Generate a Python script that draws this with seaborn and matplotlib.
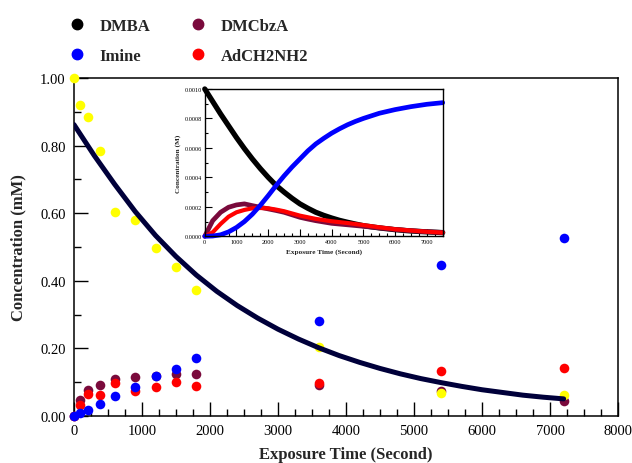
import numpy as np
import pandas as pd
import seaborn as sns
import matplotlib.pyplot as plt
from matplotlib.lines import Line2D
from matplotlib.ticker import MultipleLocator, FormatStrFormatter

# pontos medidos (mM)
tempo = [0, 90, 200, 380, 600, 900, 1200, 1500, 1800, 3600, 5400, 7200]
dmba = [1.00, 0.92, 0.885, 0.785, 0.604, 0.58, 0.497, 0.44, 0.372, 0.204, 0.068, 0.063]
imina = [0.0, 0.008, 0.018, 0.037, 0.059, 0.087, 0.12, 0.14, 0.171, 0.282, 0.447, 0.528]
dmcbza = [0.0, 0.047, 0.076, 0.092, 0.111, 0.117, 0.12, 0.124, 0.124, 0.091, 0.075, 0.046]
adch2nh2 = [0.0, 0.032, 0.064, 0.063, 0.097, 0.074, 0.087, 0.102, 0.089, 0.099, 0.132, 0.143]

# curva ajustada do DMBA
tempo_fit = [0, 300, 600, 900, 1200, 1500, 1800, 2100, 2400, 2700, 3000, 3300,
             3600, 3900, 4200, 4500, 4800, 5100, 5400, 5700, 6000, 6300, 6600,
             6900, 7200]
dmba_fit = [0.862, 0.77, 0.685, 0.605, 0.534, 0.472, 0.417, 0.369, 0.327, 0.29,
            0.257, 0.228, 0.202, 0.179, 0.159, 0.141, 0.125, 0.111, 0.099,
            0.088, 0.078, 0.07, 0.062, 0.056, 0.051]

# simulacao (M) - grafico interno
tempo_sim = [0, 250, 500, 750, 1000, 1250, 1500, 1750, 2000, 2250, 2500, 2750,
             3000, 3250, 3500, 3750, 4000, 4250, 4500, 4750, 5000, 5500, 6000,
             6500, 7000, 7500]
sim_dmba = [0.001, 0.000915, 0.00083, 0.00075, 0.00067, 0.000595, 0.000525,
            0.00046, 0.0004, 0.000345, 0.0003, 0.000258, 0.00022, 0.00019,
            0.000163, 0.000142, 0.000124, 0.000108, 0.000095, 0.000083,
            0.000072, 0.000057, 0.000045, 0.000036, 0.00003, 0.000025]
sim_imina = [0.0, 0.000002, 0.00001, 0.00003, 0.00006, 0.0001, 0.00015,
             0.00021, 0.000276, 0.000345, 0.00041, 0.00047, 0.000525, 0.00058,
             0.000627, 0.000665, 0.0007, 0.00073, 0.000757, 0.00078, 0.0008,
             0.000835, 0.00086, 0.00088, 0.000896, 0.000907]
sim_dmcbza = [0.0, 0.000106, 0.000163, 0.000197, 0.000213, 0.00022, 0.000208,
              0.000197, 0.000186, 0.000175, 0.000163, 0.000146, 0.000129,
              0.000117, 0.000106, 0.000097, 0.000088, 0.000083, 0.000078,
              0.000073, 0.000068, 0.000057, 0.000046, 0.000038, 0.000031,
              0.000026]
sim_adch2nh2 = [0.0, 0.000027, 0.000084, 0.000133, 0.000163, 0.000179, 0.00019,
                0.000192, 0.00019, 0.000181, 0.00017, 0.000155, 0.00014,
                0.000129, 0.000118, 0.00011, 0.000102, 0.000096, 0.00009,
                0.000083, 0.000076, 0.000061, 0.000048, 0.000039, 0.000031,
                0.000025]

cores = {'DMBA': '#ffff00', 'Imine': '#0000ff', 'DMCbzA': '#7a0a3c', 'AdCH2NH2': '#ff0000'}

sns.set_theme(style="ticks")
plt.rcParams['font.family'] = ['Liberation Serif', 'DejaVu Serif']

fig = plt.figure(figsize=(6.32, 4.64), dpi=100)
ax = fig.add_axes([0.117, 0.101, 0.861, 0.729])

# ordem de desenho: vinho, vermelho, azul, amarelo
for nome, valores in [('DMCbzA', dmcbza), ('AdCH2NH2', adch2nh2),
                      ('Imine', imina), ('DMBA', dmba)]:
    sns.scatterplot(x=tempo, y=valores, ax=ax, color=cores[nome], s=48,
                    linewidth=0, clip_on=False, zorder=3)

sns.lineplot(x=tempo_fit, y=dmba_fit, ax=ax, color='#00003a', linewidth=3.6,
             zorder=4)

ax.set_xlim(0, 8000)
ax.set_ylim(0, 1.0)
ax.xaxis.set_major_locator(MultipleLocator(1000))
ax.xaxis.set_minor_locator(MultipleLocator(250))
ax.yaxis.set_major_locator(MultipleLocator(0.2))
ax.yaxis.set_minor_locator(MultipleLocator(0.1))
ax.yaxis.set_major_formatter(FormatStrFormatter('%.2f'))
ax.tick_params(which='both', direction='in', top=False, right=False,
               width=1, color='black', labelsize=10.5, labelcolor='black')
ax.tick_params(which='major', length=10, pad=6)
ax.tick_params(which='minor', length=5)
for sp in ax.spines.values():
    sp.set_color('black')
    sp.set_linewidth(1.1)
ax.set_xlabel('Exposure Time (Second)', fontsize=12, fontweight='bold', labelpad=6)
ax.set_ylabel('Concentration (mM)', fontsize=12, fontweight='bold', labelpad=10)

# grafico interno (simulacao)
ins = fig.add_axes([0.324, 0.4886, 0.3765, 0.3175])
sns.lineplot(x=tempo_sim, y=sim_dmba, ax=ins, color='black', linewidth=3.8, clip_on=False)
sns.lineplot(x=tempo_sim, y=sim_dmcbza, ax=ins, color=cores['DMCbzA'], linewidth=3.4, clip_on=False)
sns.lineplot(x=tempo_sim, y=sim_adch2nh2, ax=ins, color=cores['AdCH2NH2'], linewidth=3.0, clip_on=False)
sns.lineplot(x=tempo_sim, y=sim_imina, ax=ins, color=cores['Imine'], linewidth=3.4, clip_on=False)
ins.set_xlim(0, 7500)
ins.set_ylim(0, 0.001)
ins.xaxis.set_major_locator(MultipleLocator(1000))
ins.xaxis.set_minor_locator(MultipleLocator(250))
ins.yaxis.set_major_locator(MultipleLocator(0.0002))
ins.yaxis.set_minor_locator(MultipleLocator(0.0001))
ins.yaxis.set_major_formatter(FormatStrFormatter('%.4f'))
ins.tick_params(which='both', direction='in', top=False, right=False,
                width=0.8, color='black', labelsize=4.5, labelcolor='black', pad=2)
ins.tick_params(which='major', length=5)
ins.tick_params(which='minor', length=2.5)
for sp in ins.spines.values():
    sp.set_color('black')
    sp.set_linewidth(1.0)
ins.set_xlabel('Exposure Time (Second)', fontsize=5.2, fontweight='bold', labelpad=3)
ins.set_ylabel('Concentration (M)', fontsize=5.2, fontweight='bold', labelpad=3)

# legenda
handles = [Line2D([], [], marker='o', ls='', color='black', markersize=7.5, label='DMBA'),
           Line2D([], [], marker='o', ls='', color=cores['Imine'], markersize=7.5, label='Imine'),
           Line2D([], [], marker='o', ls='', color=cores['DMCbzA'], markersize=7.5, label='DMCbzA'),
           Line2D([], [], marker='o', ls='', color=cores['AdCH2NH2'], markersize=7.5, label='AdCH2NH2')]
fig.legend(handles=handles, ncol=2, loc='upper left', bbox_to_anchor=(0.095, 0.977),
           frameon=False, prop={'weight': 'bold', 'size': 12}, borderpad=0,
           handlelength=1, handletextpad=0.85, columnspacing=2.4, labelspacing=0.85)

fig.savefig('out.png', dpi=100)
